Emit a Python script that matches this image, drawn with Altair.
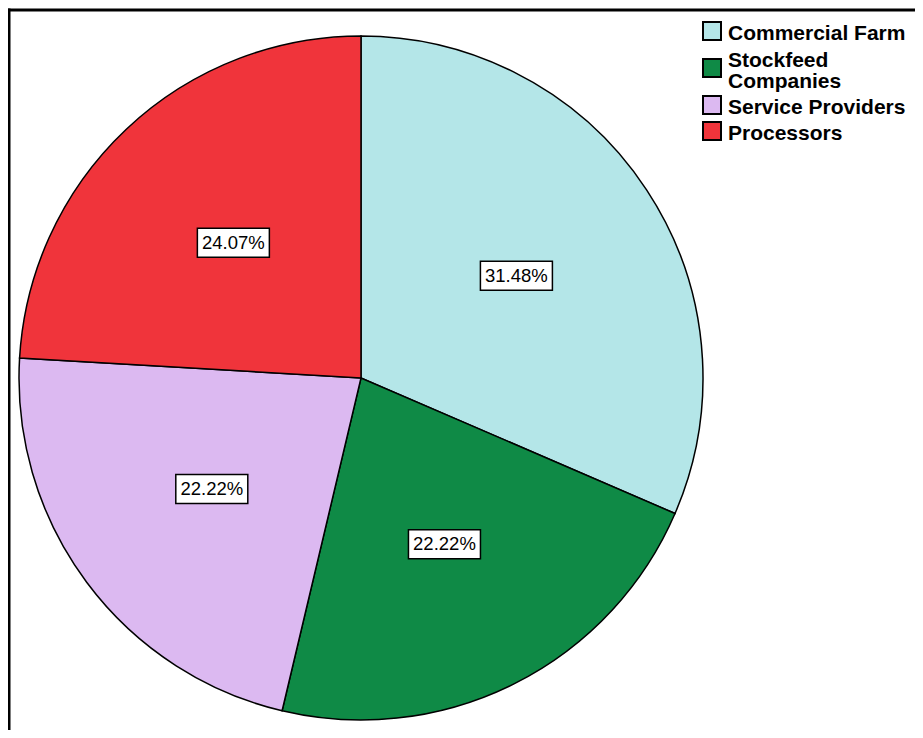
import altair as alt
import pandas as pd

categories = ["Commercial Farm", "Stockfeed Companies", "Service Providers", "Processors"]
legend_labels = ["Commercial Farm", "Stockfeed\nCompanies", "Service Providers", "Processors"]
percentages = [31.48, 22.22, 22.22, 24.07]
colors = ["#b4e6e8", "#0f8a46", "#dcb9f1", "#f0343b"]

df = pd.DataFrame({
    "category": categories,
    "leg_label": legend_labels,
    "value": percentages,
    "idx": list(range(len(categories))),
})

CX, CY, R, LR = 353, 370, 342, 186
BW, BH = 36, 14.5
LEG_X, LEG_TOP = 695, 13

color_enc = alt.Color(
    "category:N",
    scale=alt.Scale(domain=categories, range=colors),
    sort=categories,
    legend=None,
)

base = alt.Chart(df)

arcs = base.mark_arc(radius=R, stroke="black", strokeWidth=1.5).encode(
    theta=alt.Theta("value:Q", stack=True),
    color=color_enc,
    order=alt.Order("idx:Q"),
    x=alt.value(CX),
    y=alt.value(CY),
)

lab = base.transform_joinaggregate(total="sum(value)").transform_window(
    cum="sum(value)", sort=[alt.SortField("idx")], frame=[None, 0]
).transform_calculate(
    mid="(datum.cum - datum.value/2) / datum.total * 2 * PI",
    px=f"{CX} + {LR} * sin(datum.mid)",
    py=f"{CY} - {LR} * cos(datum.mid)",
    x1=f"datum.px - {BW}",
    x2=f"datum.px + {BW}",
    y1=f"datum.py - {BH}",
    y2=f"datum.py + {BH}",
    txt="format(datum.value, '.2f') + '%'",
)

boxes = lab.mark_rect(fill="white", stroke="black", strokeWidth=1.5).encode(
    x=alt.X("x1:Q", scale=None),
    x2="x2:Q",
    y=alt.Y("y1:Q", scale=None),
    y2="y2:Q",
)

texts = lab.mark_text(font="Liberation Sans", fontSize=18.5, color="black", align="center", baseline="middle").encode(
    x=alt.X("px:Q", scale=None),
    y=alt.Y("py:Q", scale=None),
    text="txt:N",
)

# manual legend (multi-line entry centred on its swatch)
leg = base.transform_calculate(
    lines="split(datum.leg_label, '\\n')",
).transform_calculate(
    n="length(datum.lines)",
).transform_calculate(
    H="20 + 22 * (datum.n - 1)",
).transform_calculate(
    Hp="datum.H + 6",
).transform_window(
    hc="sum(Hp)", sort=[alt.SortField("idx")], frame=[None, 0]
).transform_calculate(
    cy=f"{LEG_TOP} + datum.hc - datum.Hp + datum.H / 2",
).transform_calculate(
    sy1="datum.cy - 9",
    sy2="datum.cy + 9",
    ty="datum.cy + 3 - (datum.n - 1) * 10.5",
    sx1=f"{LEG_X}",
    sx2=f"{LEG_X + 18}",
    tx=f"{LEG_X + 25}",
)

leg_sq = leg.mark_rect(stroke="black", strokeWidth=2, opacity=1).encode(
    x=alt.X("sx1:Q", scale=None),
    x2="sx2:Q",
    y=alt.Y("sy1:Q", scale=None),
    y2="sy2:Q",
    color=color_enc,
)

leg_txt = leg.mark_text(
    font="Liberation Sans", fontSize=21, fontWeight="bold", color="black",
    align="left", baseline="middle", lineHeight=21,
).encode(
    x=alt.X("tx:Q", scale=None),
    y=alt.Y("ty:Q", scale=None),
    text="lines:N",
)

frame_df = pd.DataFrame({"a": [0]})
left_line = alt.Chart(frame_df).mark_rule(color="black", strokeWidth=3, strokeCap="square").encode(
    x=alt.value(1), y=alt.value(2), y2=alt.value(760)
)
top_line = alt.Chart(frame_df).mark_rule(color="black", strokeWidth=3, strokeCap="square").encode(
    x=alt.value(1), x2=alt.value(960), y=alt.value(2)
)

chart = alt.layer(arcs, boxes, texts, leg_sq, leg_txt, left_line, top_line).properties(
    width=907, height=722, autosize=alt.AutoSizeParams(type="none"), padding=0
).configure_view(stroke=None)

chart.save("out.html", embed_options={"renderer": "svg", "actions": False})
